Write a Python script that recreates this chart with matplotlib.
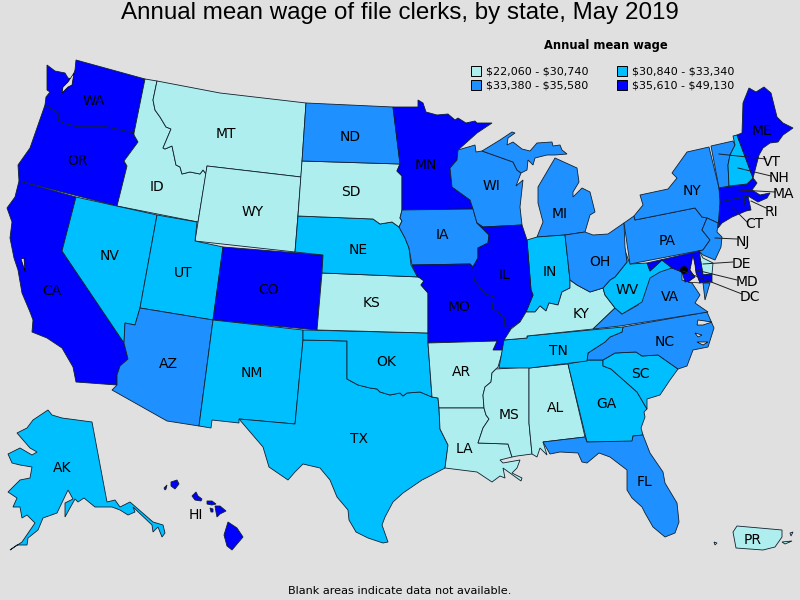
import matplotlib
matplotlib.use("Agg")
import matplotlib.pyplot as plt
from matplotlib.patches import Rectangle, Circle

# wage bins
bin_labels = [r"\$22,060 - \$30,740", r"\$30,840 - \$33,340", r"\$33,380 - \$35,580", r"\$35,610 - \$49,130"]
bin_colors = ["#AFEEEE", "#00BFFF", "#1E90FF", "#0000FF"]
BG = "#E0E0E0"

# wage bin of each state (index into bin_labels)
state_bin = {
    "WA": 3, "OR": 3, "CA": 3, "NV": 1, "ID": 0, "MT": 0, "WY": 0, "UT": 1, "AZ": 2, "CO": 3,
    "NM": 1, "ND": 2, "SD": 0, "NE": 1, "KS": 0, "OK": 1, "TX": 1, "MN": 3, "IA": 2, "MO": 3,
    "AR": 0, "LA": 0, "WI": 2, "IL": 3, "MI": 2, "IN": 1, "OH": 2, "KY": 0, "TN": 1, "MS": 0,
    "AL": 0, "GA": 1, "SC": 1, "NC": 2, "VA": 2, "WV": 1, "PA": 2, "NY": 2, "VT": 2, "NH": 1,
    "ME": 3, "MA": 3, "RI": 3, "CT": 3, "NJ": 2, "DE": 0, "MD": 3, "FL": 2, "AK": 1, "HI": 3,
    "PR": 0,
}

# state outlines in image pixels
outlines = {
    "WA": [[(47,65),(55,71),(65,73),(68,78),(72,79),(75,70),(76,60),(145,79),(134,133),(107,127),(78,127),(63,123),(58,120),(58,113),(45,105),(46,97),(50,92),(47,90)]],
    "OR": [[(45,105),(58,113),(58,120),(63,123),(78,127),(107,127),(134,133),(134,135),(138,142),(124,161),(127,166),(117,206),(19,181),(18,165),(30,148)]],
    "ID": [[(145,79),(157,81),(153,100),(155,110),(160,117),(166,127),(171,129),(163,148),(165,149),(172,146),(176,165),(180,167),(182,174),(190,172),(200,174),(203,170),(206,174),(198,222),(117,206),(127,166),(124,161),(138,142),(134,135),(134,133)]],
    "MT": [[(157,81),(220,93),(306,103),(301,177),(207,166),(206,174),(203,170),(200,174),(190,172),(182,174),(180,167),(176,165),(172,146),(165,149),(163,148),(171,129),(166,127),(160,117),(155,110),(153,100)]],
    "WY": [[(207,166),(301,177),(295,252),(195,241)]],
    "CA": [[(19,181),(76,197),(62,251),(124,343),(128,359),(120,366),(117,375),(117,385),(76,382),(73,367),(62,348),(47,338),(32,332),(33,320),(30,312),(22,293),(18,270),(14,258),(10,238),(12,222),(7,208),(15,197)]],
    "NV": [[(76,197),(157,215),(140,308),(135,325),(125,323),(124,343),(62,251)]],
    "UT": [[(157,215),(197,222),(195,241),(223,247),(213,320),(140,308)]],
    "CO": [[(223,247),(323,255),(317,330),(213,320)]],
    "AZ": [[(140,308),(213,320),(199,426),(167,421),(112,390),(117,385),(117,375),(120,366),(128,359),(124,343),(125,323),(135,325)]],
    "NM": [[(213,320),(303,330),(303,340),(295,424),(239,419),(239,423),(212,420),(211,428),(199,426)]],
    "TX": [[(303,340),(347,341),(347,379),(358,385),(370,388),(377,389),(380,392),(390,395),(400,393),(403,396),(407,393),(420,392),(432,397),(438,398),(439,408),(440,429),(448,445),(445,468),(428,477),(422,480),(403,493),(393,502),(385,517),(382,525),(388,542),(383,543),(368,538),(356,532),(349,520),(348,510),(337,497),(330,480),(320,468),(303,464),(295,472),(288,480),(269,467),(263,447),(239,419),(295,424)]],
    "OK": [[(303,330),(428,333),(428,343),(432,397),(420,392),(407,393),(403,396),(400,393),(390,395),(380,392),(377,389),(370,388),(358,385),(347,379),(347,341),(303,340)]],
    "KS": [[(322,273),(420,277),(424,281),(421,285),(428,293),(428,333),(317,330)]],
    "NE": [[(298,216),(373,219),(380,224),(392,222),(399,227),(405,238),(409,248),(411,265),(417,276),(420,277),(322,273),(323,255),(295,252)]],
    "SD": [[(302,161),(400,164),(397,171),(402,176),(402,210),(400,218),(402,221),(399,227),(392,222),(380,224),(373,219),(298,216)]],
    "ND": [[(306,103),(393,107),(400,164),(302,161)]],
    "MN": [[(393,107),(418,107),(418,100),(423,103),(426,112),(437,115),(448,114),(455,120),(458,118),(466,123),(475,121),(477,123),(492,123),(477,133),(458,150),(457,160),(450,168),(452,187),(470,200),(473,209),(402,210),(402,176),(397,171),(400,164)]],
    "IA": [[(402,210),(473,209),(477,223),(489,235),(488,243),(478,248),(478,258),(473,267),(470,264),(412,265),(409,248),(405,238),(399,227),(402,221),(400,218)]],
    "WI": [[(458,150),(475,145),(476,152),(482,151),(513,162),(517,170),(521,173),(516,186),(523,180),(520,207),(522,225),(483,227),(477,223),(473,209),(470,200),(452,187),(450,168),(457,160)]],
    "MI": [[(482,151),(500,140),(512,132),(515,133),(508,138),(507,145),(513,142),(522,149),(530,151),(537,143),(552,142),(553,146),(560,145),(562,150),(567,154),(555,155),(547,155),(535,158),(533,165),(528,160),(527,170),(521,173),(517,170),(513,162)],
           [(555,158),(577,168),(579,182),(573,192),(573,197),(582,188),(590,192),(595,212),(590,215),(585,232),(565,235),(537,237),(543,222),(538,203),(538,187),(548,170)]],
    "IN": [[(527,240),(537,237),(565,235),(570,280),(570,288),(562,292),(558,305),(549,303),(546,311),(540,306),(535,312),(526,312),(533,295),(531,290)]],
    "IL": [[(483,227),(522,225),(527,240),(531,290),(533,295),(526,312),(520,322),(511,328),(505,327),(504,317),(492,308),(494,297),(485,294),(474,280),(473,267),(478,258),(478,248),(488,243),(489,235),(477,223)]],
    "MO": [[(412,265),(470,264),(473,267),(474,280),(485,294),(494,297),(492,308),(504,317),(505,327),(511,328),(507,340),(503,350),(493,350),(497,341),(428,343),(428,293),(421,285),(424,281),(417,276)]],
    "AR": [[(428,343),(497,341),(493,350),(503,350),(498,367),(492,373),(491,382),(485,387),(483,395),(484,408),(439,408),(438,398),(432,397)]],
    "LA": [[(439,408),(484,408),(486,415),(489,419),(483,428),(478,443),(508,444),(512,457),(500,460),(503,463),(520,460),(517,468),(512,473),(522,478),(521,481),(503,468),(505,478),(500,476),(492,482),(477,472),(453,469),(445,468),(448,445),(440,429)]],
    "MS": [[(496,369),(529,367),(529,423),(532,454),(517,456),(512,457),(508,444),(478,443),(483,428),(489,419),(486,415),(484,408),(483,395),(485,387),(491,382),(492,373)]],
    "AL": [[(529,368),(568,364),(585,437),(543,442),(547,455),(540,448),(537,457),(532,454),(529,423)]],
    "GA": [[(568,364),(587,360),(603,360),(603,366),(611,369),(637,392),(647,409),(644,412),(645,417),(641,428),(643,435),(633,436),(632,442),(587,442)]],
    "FL": [[(543,442),(585,437),(587,442),(632,441),(633,436),(643,435),(650,453),(663,472),(665,483),(677,503),(679,522),(675,533),(665,537),(653,527),(645,513),(642,507),(632,498),(627,490),(627,470),(610,457),(599,453),(587,463),(582,462),(578,453),(560,452),(550,454)]],
    "SC": [[(603,360),(615,353),(636,352),(642,356),(658,355),(678,369),(670,380),(660,395),(647,399),(647,409),(637,392),(611,369),(603,366)]],
    "NC": [[(587,360),(588,353),(605,342),(610,337),(622,332),(623,327),(707,312),(714,328),(708,347),(693,350),(687,366),(678,369),(658,355),(642,356),(636,352),(615,353),(603,360)]],
    "TN": [[(499,368),(504,340),(527,338),(527,336),(623,327),(622,332),(610,337),(605,342),(588,353),(587,361),(530,368)]],
    "KY": [[(511,329),(520,322),(526,312),(535,312),(540,306),(546,311),(549,303),(558,305),(562,292),(570,288),(570,280),(577,285),(590,292),(603,288),(605,295),(615,308),(593,329),(527,336),(527,338),(504,340)]],
    "VA": [[(593,329),(615,308),(622,314),(638,305),(647,285),(650,271),(662,260),(672,268),(682,272),(682,280),(692,283),(700,295),(695,303),(708,312),(620,326)],
           [(703,283),(710,283),(705,300)]],
    "WV": [[(603,288),(610,280),(615,277),(627,262),(624,248),(630,264),(647,263),(650,271),(662,260),(672,268),(660,272),(650,278),(642,302),(622,314),(615,308),(605,295)]],
    "OH": [[(565,235),(585,232),(593,235),(608,234),(624,223),(625,247),(627,262),(615,277),(610,280),(603,288),(590,292),(577,285),(570,280)]],
    "PA": [[(624,223),(634,216),(635,220),(695,208),(702,217),(707,218),(702,230),(710,240),(703,250),(630,264)]],
    "NY": [[(640,195),(668,189),(677,178),(672,173),(687,152),(709,147),(719,188),(723,215),(718,223),(707,218),(702,217),(695,208),(635,220),(634,216),(643,205)]],
    "NJ": [[(707,218),(718,223),(717,232),(722,237),(721,247),(715,260),(703,255),(699,251),(703,250),(710,240),(702,230)]],
    "DE": [[(699,251),(703,258),(713,263),(712,274),(703,275)]],
    "MD": [[(647,263),(695,252),(699,251),(703,275),(712,274),(712,282),(700,283),(694,280),(685,282),(682,272),(672,268),(662,260),(650,271)]],
    "CT": [[(720,202),(744,197),(746,211),(732,217),(722,223),(718,228)]],
    "RI": [[(744,197),(748,196),(751,210),(746,211)]],
    "MA": [[(719,188),(747,184),(753,178),(757,183),(752,190),(760,195),(770,193),(767,198),(758,202),(748,196),(720,202)]],
    "VT": [[(711,146),(733,141),(735,145),(730,155),(728,165),(729,186),(719,188)]],
    "NH": [[(733,136),(737,135),(753,178),(747,184),(729,186),(728,165),(730,155),(735,145)]],
    "ME": [[(737,135),(742,133),(743,103),(749,88),(756,92),(764,87),(771,93),(777,117),(783,123),(793,128),(783,135),(778,142),(770,143),(763,148),(759,155),(753,178)]],
    "AK": [[(48,410),(52,415),(62,418),(92,422),(107,502),(115,500),(120,507),(130,502),(153,522),(163,525),(165,533),(162,537),(158,527),(153,532),(152,525),(133,507),(135,512),(128,515),(120,510),(112,507),(95,507),(84,498),(78,502),(75,499),(65,517),(65,503),(73,499),(68,490),(57,513),(43,518),(38,530),(28,538),(27,545),(17,545),(10,550),(22,542),(35,523),(27,515),(22,518),(20,507),(13,507),(17,498),(8,492),(20,480),(30,478),(32,467),(20,465),(12,463),(8,454),(20,448),(32,455),(37,452),(30,448),(17,433),(27,428),(33,420)]],
    "HI": [[(228,522),(237,528),(243,537),(232,550),(227,546),(224,535)],
           [(215,506),(220,506),(226,511),(220,514),(217,517),(216,512)],
           [(196,492),(198,496),(202,499),(201,501),(195,500),(192,496)],
           [(171,482),(177,480),(179,484),(175,489),(171,486)],
           [(207,501),(212,501),(216,504),(212,505),(207,504)],
           [(210,508),(213,509),(213,512),(211,512)],
           [(164,488),(167,485),(166,489),(165,490)]],
    "PR": [[(737,526),(782,530),(782,537),(775,547),(763,550),(736,548),(733,532)],
           [(782,542),(792,541),(785,544)],
           [(790,533),(793,532),(791,536)],
           [(714,542),(717,543),(715,545)]],
}

# water cut into the states
water = [
    [(74,73),(72,85),(68,87),(62,93),(63,87),(68,82)],
    [(21,259),(24,258),(25,272),(23,265)],
    [(693,255),(690,270),(695,277),(688,282),(700,283),(696,273),(695,265)],
    [(698,320),(712,322),(703,325),(697,325)],
    [(695,333),(702,335),(698,337)],
    [(697,342),(708,342),(703,345)],
]

# label text anchors
map_labels = {
    "WA": (94,101), "OR": (78,161), "CA": (52,291), "NV": (110,256), "ID": (157,187), "MT": (226,134),
    "WY": (253,212), "UT": (183,273), "AZ": (168,364), "CO": (269,290), "NM": (252,373), "ND": (350,137),
    "SD": (351,192), "NE": (358,250), "KS": (372,303), "OK": (386,362), "TX": (359,439), "MN": (426,165),
    "IA": (442,235), "MO": (459,307), "AR": (461,372), "LA": (464,449), "WI": (491,186), "IL": (504,275),
    "MI": (560,214), "IN": (550,272), "OH": (600,262), "KY": (581,314), "TN": (558,351), "MS": (509,415),
    "AL": (556,408), "GA": (606,404), "SC": (640,374), "NC": (665,342), "VA": (670,297), "WV": (627,290),
    "PA": (667,241), "NY": (692,191), "ME": (762,131), "FL": (645,482), "AK": (62,468), "HI": (196,515),
    "PR": (753,540),
}

# small states get a label off the map and a leader line
leader_labels = {
    "VT": ((772,162), (719,154), (766,159)),
    "NH": ((779,178), (738,168), (771,176)),
    "MA": ((783,194), (739,190), (775,192)),
    "RI": ((771,212), (751,201), (766,208)),
    "CT": ((754,224), (732,207), (747,222)),
    "NJ": ((743,242), (715,238), (737,239)),
    "DE": ((741,264), (703,264), (733,262)),
    "MD": ((747,282), (696,270), (737,280)),
    "DC": ((750,297), (683,271), (742,294)),
}

fig = plt.figure(figsize=(8, 6), dpi=100, facecolor=BG)
ax = fig.add_axes([0, 0, 1, 1])
ax.set_xlim(0, 800)
ax.set_ylim(600, 0)
ax.axis("off")

for st, parts in outlines.items():
    for part in parts:
        xs, ys = zip(*part)
        ax.fill(xs, ys, facecolor=bin_colors[state_bin[st]], edgecolor="#102030", linewidth=0.6, zorder=2)

for part in water:
    xs, ys = zip(*part)
    ax.fill(xs, ys, facecolor=BG, edgecolor="black", linewidth=0.5, zorder=3)

# DC is only a dot
ax.add_patch(Circle((684, 270), 3.2, facecolor="black", edgecolor="black", zorder=4))

label_font = dict(family="DejaVu Sans", fontsize=10, color="black", ha="center", va="center", zorder=6)
for st, (x, y) in map_labels.items():
    ax.text(x, y, st, **label_font)
for st, (pos, start, end) in leader_labels.items():
    ax.plot([start[0], end[0]], [start[1], end[1]], color="#202020", linewidth=0.7, zorder=5)
    ax.text(pos[0], pos[1], st, **label_font)

# title, legend, footnote
ax.text(400, 13, "Annual mean wage of file clerks, by state, May 2019", family="Liberation Sans",
        fontsize=17.4, ha="center", va="center")
ax.text(606, 46, "Annual mean wage", family="DejaVu Sans", fontsize=8.3, fontweight="bold", ha="center", va="center")
legend_x = [471, 617, 471, 617]
legend_y = [66, 66, 80, 80]
for lab, col, x, y in zip(bin_labels, bin_colors, legend_x, legend_y):
    ax.add_patch(Rectangle((x, y), 10, 10, facecolor=col, edgecolor="black", linewidth=0.7, zorder=5))
    ax.text(x + 15, y + 5, lab, family="DejaVu Sans", fontsize=8.05, ha="left", va="center")
ax.text(400, 591, "Blank areas indicate data not available.", family="DejaVu Sans", fontsize=8.15, ha="center", va="center")

fig.savefig("out.png", dpi=100, facecolor=BG)
